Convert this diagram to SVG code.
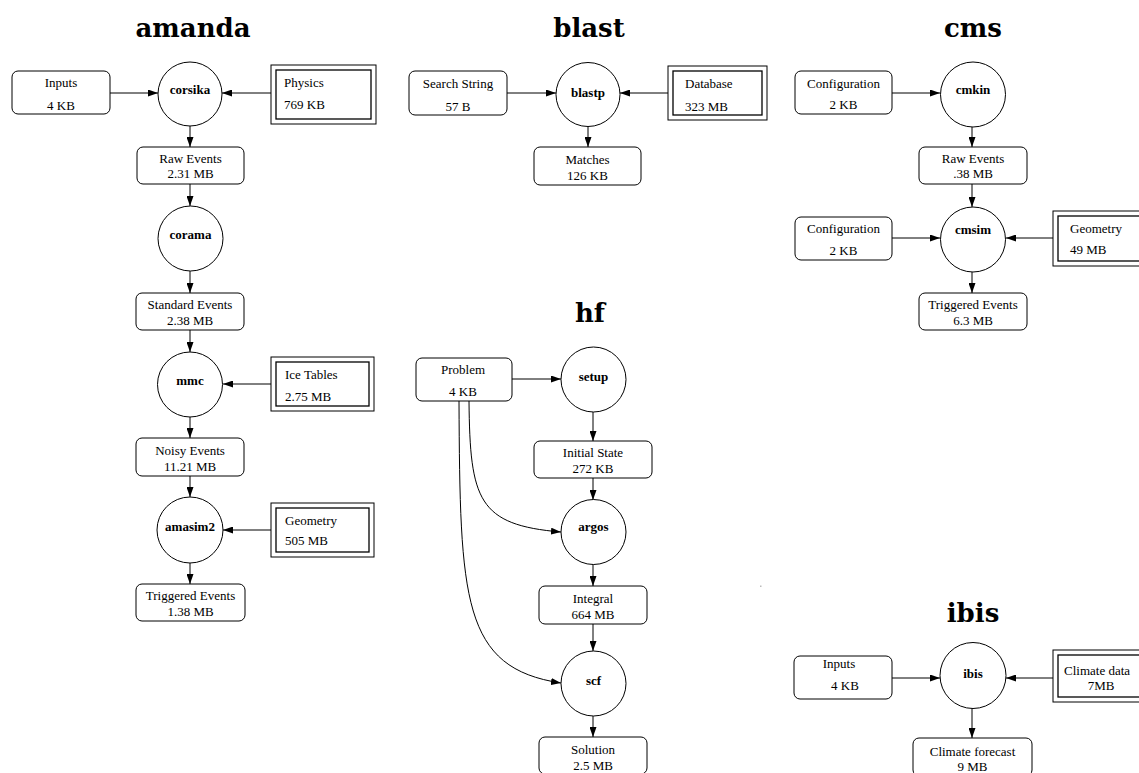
<svg xmlns="http://www.w3.org/2000/svg" width="1139" height="773" viewBox="0 0 1139 773">
<style>
.bg{fill:#fff}
.rb{fill:#fff;stroke:#000;stroke-width:1}
.ob{fill:#fff;stroke:#000;stroke-width:1}
.ib{fill:none;stroke:#000;stroke-width:1.3}
.job{fill:#fff;stroke:#000;stroke-width:1}
.e{stroke:#000;stroke-width:1;fill:none;marker-end:url(#ah)}
.t{font-family:"Liberation Serif","Times New Roman",serif;font-size:13px;fill:#000}
.c{text-anchor:middle}
.b{font-weight:bold}
.title{font-family:"DejaVu Serif","Liberation Serif",serif;font-weight:bold;font-size:26px;text-anchor:middle;fill:#000}
</style>
<defs>
<marker id="ah" markerWidth="10" markerHeight="7" refX="10" refY="3.5" orient="auto" markerUnits="userSpaceOnUse">
<path d="M0,0 L10,3.5 L0,7 z" fill="#000"/>
</marker>
</defs>
<rect class="bg" x="0" y="0" width="1139" height="773"/>

<g id="titles">
<text class="title" x="193" y="37">amanda</text>
<text class="title" x="589" y="37">blast</text>
<text class="title" x="973" y="37">cms</text>
<text class="title" x="590" y="322">hf</text>
<text class="title" x="973" y="622">ibis</text>
</g>

<g id="connectors">
<!-- amanda -->
<line class="e" x1="110" y1="93" x2="158" y2="93"/>
<line class="e" x1="271" y1="93" x2="222" y2="93"/>
<line class="e" x1="190" y1="126" x2="190" y2="147"/>
<line class="e" x1="190" y1="184" x2="190" y2="206"/>
<line class="e" x1="190" y1="271" x2="190" y2="293"/>
<line class="e" x1="190" y1="330" x2="190" y2="352"/>
<line class="e" x1="271" y1="384" x2="223" y2="384"/>
<line class="e" x1="190" y1="417" x2="190" y2="438"/>
<line class="e" x1="190" y1="476" x2="190" y2="497"/>
<line class="e" x1="271" y1="530" x2="223" y2="530"/>
<line class="e" x1="190" y1="563" x2="190" y2="584"/>
<!-- blast -->
<line class="e" x1="507" y1="93" x2="556" y2="93"/>
<line class="e" x1="668" y1="93" x2="620" y2="93"/>
<line class="e" x1="588" y1="126" x2="588" y2="147"/>
<!-- cms -->
<line class="e" x1="892" y1="93" x2="940" y2="93"/>
<line class="e" x1="972" y1="127" x2="972" y2="147"/>
<line class="e" x1="972" y1="184" x2="972" y2="207"/>
<line class="e" x1="892" y1="238" x2="940" y2="238"/>
<line class="e" x1="1053" y1="238" x2="1006" y2="238"/>
<line class="e" x1="972" y1="272" x2="972" y2="293"/>
<!-- hf -->
<line class="e" x1="512" y1="379" x2="561" y2="379"/>
<line class="e" x1="593" y1="412" x2="593" y2="441"/>
<line class="e" x1="593" y1="478" x2="593" y2="500"/>
<line class="e" x1="593" y1="564" x2="593" y2="586"/>
<line class="e" x1="593" y1="624" x2="593" y2="651"/>
<line class="e" x1="593" y1="716" x2="593" y2="737"/>
<path class="e" d="M469,401 C470,500 478,525 561,532"/>
<path class="e" d="M459,401 C460,600 462,668 561,683"/>
<!-- ibis -->
<line class="e" x1="892" y1="678" x2="940" y2="678"/>
<line class="e" x1="1053" y1="678" x2="1006" y2="678"/>
<line class="e" x1="972" y1="708" x2="972" y2="738"/>
</g>

<!-- amanda nodes -->
<g id="amanda-inputs">
<rect class="rb" x="12" y="71" width="98" height="43" rx="6"/>
<text class="t c" x="61" y="87">Inputs</text>
<text class="t c" x="61" y="109.5">4 KB</text>
</g>
<g id="amanda-corsika">
<circle class="rb" cx="190" cy="94" r="32"/>
<text class="t c b" x="190" y="93.5">corsika</text>
</g>
<g id="amanda-physics">
<rect class="ob" x="271" y="65" width="105" height="59"/>
<rect class="ib" x="276" y="70" width="95" height="49"/>
<text class="t" x="284" y="87">Physics</text>
<text class="t" x="284" y="109">769 KB</text>
</g>
<g id="amanda-raw">
<rect class="rb" x="137" y="147" width="107" height="37" rx="6"/>
<text class="t c" x="190.5" y="163">Raw Events</text>
<text class="t c" x="190.5" y="178">2.31 MB</text>
</g>
<g id="amanda-corama">
<circle class="rb" cx="190.5" cy="238.5" r="32.5"/>
<text class="t c b" x="190.5" y="239">corama</text>
</g>
<g id="amanda-standard">
<rect class="rb" x="136" y="293" width="108" height="37" rx="6"/>
<text class="t c" x="190" y="309">Standard Events</text>
<text class="t c" x="190" y="325">2.38 MB</text>
</g>
<g id="amanda-mmc">
<circle class="rb" cx="190" cy="384.5" r="32.5"/>
<text class="t c b" x="190" y="384.5">mmc</text>
</g>
<g id="amanda-icetables">
<rect class="ob" x="271" y="357" width="103" height="54"/>
<rect class="ib" x="276" y="362" width="93" height="44"/>
<text class="t" x="285" y="379">Ice Tables</text>
<text class="t" x="285" y="401">2.75 MB</text>
</g>
<g id="amanda-noisy">
<rect class="rb" x="136" y="438" width="108" height="38" rx="6"/>
<text class="t c" x="190" y="455">Noisy Events</text>
<text class="t c" x="190" y="471">11.21 MB</text>
</g>
<g id="amanda-amasim2">
<circle class="rb" cx="190" cy="530" r="33"/>
<text class="t c b" x="190" y="531">amasim2</text>
</g>
<g id="amanda-geometry">
<rect class="ob" x="271" y="503" width="103" height="54"/>
<rect class="ib" x="276" y="508" width="93" height="44"/>
<text class="t" x="285" y="525">Geometry</text>
<text class="t" x="285" y="545">505 MB</text>
</g>
<g id="amanda-triggered">
<rect class="rb" x="136" y="584" width="109" height="37" rx="6"/>
<text class="t c" x="190.5" y="600">Triggered Events</text>
<text class="t c" x="190.5" y="615.5">1.38 MB</text>
</g>

<!-- blast nodes -->
<g id="blast-search">
<rect class="rb" x="409" y="71" width="98" height="44" rx="6"/>
<text class="t c" x="458" y="88">Search String</text>
<text class="t c" x="458" y="110.5">57 B</text>
</g>
<g id="blast-blastp">
<circle class="rb" cx="588" cy="94.5" r="32"/>
<text class="t c b" x="588" y="97">blastp</text>
</g>
<g id="blast-database">
<rect class="ob" x="668" y="66" width="99" height="54"/>
<rect class="ib" x="673" y="71" width="89" height="44"/>
<text class="t" x="685" y="88">Database</text>
<text class="t" x="685" y="110.5">323 MB</text>
</g>
<g id="blast-matches">
<rect class="rb" x="534" y="147" width="107" height="38" rx="6"/>
<text class="t c" x="587.5" y="164">Matches</text>
<text class="t c" x="587.5" y="180">126 KB</text>
</g>

<!-- cms nodes -->
<g id="cms-config1">
<rect class="rb" x="795" y="71" width="97" height="43" rx="6"/>
<text class="t c" x="843.5" y="87.5">Configuration</text>
<text class="t c" x="843.5" y="109">2 KB</text>
</g>
<g id="cms-cmkin">
<circle class="rb" cx="973" cy="94.5" r="32.5"/>
<text class="t c b" x="973" y="93.5">cmkin</text>
</g>
<g id="cms-raw">
<rect class="rb" x="919" y="147" width="108" height="37" rx="6"/>
<text class="t c" x="973" y="163">Raw Events</text>
<text class="t c" x="973" y="178">.38 MB</text>
</g>
<g id="cms-config2">
<rect class="rb" x="795" y="217" width="97" height="43" rx="6"/>
<text class="t c" x="843.5" y="233.3">Configuration</text>
<text class="t c" x="843.5" y="254.5">2 KB</text>
</g>
<g id="cms-cmsim">
<circle class="rb" cx="973" cy="239.5" r="32.5"/>
<text class="t c b" x="973" y="234">cmsim</text>
</g>
<g id="cms-geometry">
<rect class="ob" x="1053" y="211" width="103" height="55"/>
<rect class="ib" x="1058" y="216" width="93" height="45"/>
<text class="t" x="1070" y="233">Geometry</text>
<text class="t" x="1070" y="254">49 MB</text>
</g>
<g id="cms-triggered">
<rect class="rb" x="919" y="293" width="108" height="37" rx="6"/>
<text class="t c" x="973" y="309">Triggered Events</text>
<text class="t c" x="973" y="325">6.3 MB</text>
</g>

<!-- hf nodes -->
<g id="hf-problem">
<rect class="rb" x="416" y="358" width="96" height="43" rx="6"/>
<text class="t c" x="463" y="374">Problem</text>
<text class="t c" x="463" y="396">4 KB</text>
</g>
<g id="hf-setup">
<circle class="rb" cx="593.5" cy="379.5" r="32.5"/>
<text class="t c b" x="593.5" y="381">setup</text>
</g>
<g id="hf-initial">
<rect class="rb" x="534" y="441" width="118" height="37" rx="6"/>
<text class="t c" x="593" y="457">Initial State</text>
<text class="t c" x="593" y="473">272 KB</text>
</g>
<g id="hf-argos">
<circle class="rb" cx="593.5" cy="532" r="32.5"/>
<text class="t c b" x="593.5" y="531">argos</text>
</g>
<g id="hf-integral">
<rect class="rb" x="539" y="586" width="108" height="38" rx="6"/>
<text class="t c" x="593" y="603">Integral</text>
<text class="t c" x="593" y="619">664 MB</text>
</g>
<g id="hf-scf">
<circle class="rb" cx="593.5" cy="683.5" r="32.5"/>
<text class="t c b" x="593.5" y="685">scf</text>
</g>
<g id="hf-solution">
<rect class="rb" x="539" y="737" width="108" height="37" rx="6"/>
<text class="t c" x="593" y="754">Solution</text>
<text class="t c" x="593" y="770">2.5 MB</text>
</g>

<!-- ibis nodes -->
<g id="ibis-inputs">
<rect class="rb" x="794" y="656" width="98" height="43" rx="6"/>
<text class="t c" x="839" y="668.3">Inputs</text>
<text class="t c" x="845" y="690">4 KB</text>
</g>
<g id="ibis-ibis">
<circle class="rb" cx="973" cy="675.5" r="33"/>
<text class="t c b" x="973" y="678">ibis</text>
</g>
<g id="ibis-climate">
<rect class="ob" x="1053" y="650" width="97" height="52"/>
<rect class="ib" x="1058" y="655" width="87" height="42"/>
<text class="t" x="1064" y="675">Climate data</text>
<text class="t c" x="1101" y="690">7MB</text>
</g>
<g id="ibis-forecast">
<rect class="rb" x="913" y="738" width="119" height="38" rx="6"/>
<text class="t c" x="972.5" y="756">Climate forecast</text>
<text class="t c" x="972.5" y="770.5">9 MB</text>
</g>

<rect x="760" y="585.5" width="1.5" height="1.5" fill="#bbb"/>
</svg>
